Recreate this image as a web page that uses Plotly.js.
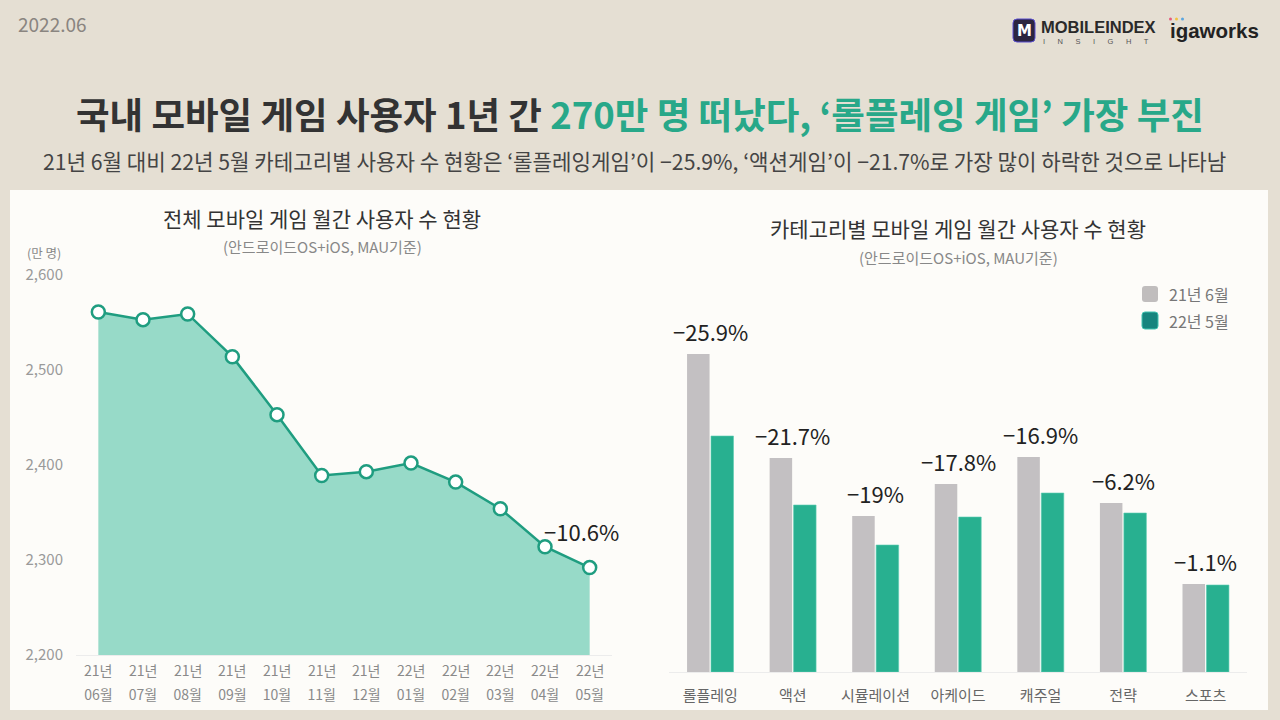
<!DOCTYPE html>
<html>
<head>
<meta charset="utf-8">
<script src="https://cdn.plot.ly/plotly-3.0.1.min.js"></script>
<style>
  html, body { margin: 0; padding: 0; background: #e5dfd3; }
  #chart { width: 1280px; height: 720px; }
</style>
</head>
<body>
<div id="chart"></div>
<script>
const FONT = "Noto Sans CJK KR, Noto Sans, sans-serif";

// monthly total users (만 명)
const monthYears = ["21년", "21년", "21년", "21년", "21년", "21년", "21년", "22년", "22년", "22년", "22년", "22년"];
const monthNames = ["06월", "07월", "08월", "09월", "10월", "11월", "12월", "01월", "02월", "03월", "04월", "05월"];
const totalUsers = [2561, 2553, 2559, 2514, 2453, 2389, 2393, 2402, 2382, 2354, 2314, 2292];
const totalChange = "−10.6%";

// users by category, Jun 21 vs May 22 (relative bar heights)
const categories = ["롤플레잉", "액션", "시뮬레이션", "아케이드", "캐주얼", "전략", "스포츠"];
const users2106 = [318, 214, 156, 188, 215, 169, 88];
const users2205 = [236, 167, 127, 155, 179, 159, 87];
const changeLabels = ["−25.9%", "−21.7%", "−19%", "−17.8%", "−16.9%", "−6.2%", "−1.1%"];
const seriesNames = ["21년 6월", "22년 5월"];

const TEAL_LINE = "#1f9d80";
const TEAL_BAR = "#28b090";
const GRAY_BAR = "#c3c0c2";

// pixel helpers for the fixed 1280x720 page
const px = (x) => x / 1280;
const py = (y) => 1 - y / 720;

function note(text, x, y, size, color, extra) {
  return Object.assign({
    text, x: px(x), y: py(y), xref: "paper", yref: "paper", showarrow: false,
    xanchor: "center", yanchor: "middle",
    font: { size, color, family: FONT },
  }, extra || {});
}

function roundRect(x0, y0, x1, y1, r) {
  const X0 = px(x0), X1 = px(x1), Y0 = py(y0), Y1 = py(y1);
  const rx = r / 1280, ry = r / 720;
  return `M${X0 + rx},${Y0} L${X1 - rx},${Y0} Q${X1},${Y0} ${X1},${Y0 - ry} L${X1},${Y1 + ry} Q${X1},${Y1} ${X1 - rx},${Y1} ` +
    `L${X0 + rx},${Y1} Q${X0},${Y1} ${X0},${Y1 + ry} L${X0},${Y0 - ry} Q${X0},${Y0} ${X0 + rx},${Y0} Z`;
}

const traces = [
  {
    x: monthNames,
    y: totalUsers,
    type: "scatter",
    mode: "lines+markers",
    fill: "tozeroy",
    fillcolor: "#97dac8",
    line: { color: TEAL_LINE, width: 2.5 },
    marker: { size: 13, color: "#ffffff", line: { color: TEAL_LINE, width: 2.5 } },
    xaxis: "x",
    yaxis: "y",
    hoverinfo: "skip",
  },
  {
    x: categories,
    y: users2106,
    type: "bar",
    name: seriesNames[0],
    marker: { color: GRAY_BAR },
    xaxis: "x2",
    yaxis: "y2",
    hoverinfo: "skip",
  },
  {
    x: categories,
    y: users2205,
    type: "bar",
    name: seriesNames[1],
    marker: { color: TEAL_BAR, line: { color: "#5ccdb2", width: 0.6 } },
    xaxis: "x2",
    yaxis: "y2",
    hoverinfo: "skip",
  },
];

const annotations = [
  // header
  note("2022.06", 16, 24, 19, "#8a8580", { xanchor: "left" }),
  note("<b>M</b>", 1024, 31, 15, "#ffffff", { font: { size: 15, color: "#ffffff", family: "DejaVu Sans" } }),
  note("<b>MOBILEINDEX</b>", 1039, 27, 16.5, "#2a2a2a", { xanchor: "left", font: { size: 16.5, color: "#2a2a2a", family: "Liberation Sans" } }),
  note("I      N      S      I      G      H      T", 1041, 41, 7.5, "#555",
    { xanchor: "left", font: { size: 7.5, color: "#555", family: "Liberation Sans" } }),
  note("<b>igaworks</b>", 1168, 31, 20.5, "#222", { xanchor: "left", font: { size: 20.5, color: "#222", family: "Liberation Sans" } }),

  // main title
  note("<b>국내 모바일 게임 사용자 1년 간 <span style='color:#28a889'>270만 명 떠났다, ‘롤플레잉 게임’ 가장 부진</span></b>",
    640, 113, 36.5, "#333"),
  note("21년 6월 대비 22년 5월 카테고리별 사용자 수 현황은 ‘롤플레잉게임’이 −25.9%, ‘액션게임’이 −21.7%로 가장 많이 하락한 것으로 나타남",
    634, 160, 21.2, "#444"),

  // left chart titles
  note("전체 모바일 게임 월간 사용자 수 현황", 322, 218, 21, "#333"),
  note("(안드로이드OS+iOS, MAU기준)", 322, 246, 15, "#888"),
  note("(만 명)", 44, 253, 12.5, "#888"),
  { text: totalChange, x: monthNames[monthNames.length - 1], y: totalUsers[totalUsers.length - 1],
    xref: "x", yref: "y", showarrow: false, xshift: -8, yshift: 37,
    font: { size: 22, color: "#222", family: FONT } },

  // right chart titles
  note("카테고리별 모바일 게임 월간 사용자 수 현황", 958, 228, 21, "#333"),
  note("(안드로이드OS+iOS, MAU기준)", 958, 257, 15, "#888"),

  // legend texts
  note(seriesNames[0], 1167, 294, 16, "#777", { xanchor: "left" }),
  note(seriesNames[1], 1167, 321, 16, "#777", { xanchor: "left" }),
];

// year line of the month tick labels
monthYears.forEach((yr, i) => {
  annotations.push({
    text: yr, x: monthNames[i], xref: "x", y: py(670), yref: "paper",
    showarrow: false, yanchor: "middle",
    font: { size: 14, color: "#8a8a8a", family: FONT },
  });
});

categories.forEach((cat, i) => {
  annotations.push({
    text: changeLabels[i], x: cat, y: Math.max(users2106[i], users2205[i]),
    xref: "x2", yref: "y2", showarrow: false, yshift: 23,
    font: { size: 22, color: "#222", family: FONT },
  });
});

const layout = {
  width: 1280,
  height: 720,
  margin: { l: 0, r: 0, t: 0, b: 0 },
  paper_bgcolor: "#e5dfd3",
  plot_bgcolor: "rgba(0,0,0,0)",
  font: { family: FONT },
  showlegend: false,
  barmode: "group",
  bargap: 0.42,
  bargroupgap: 0.06,
  xaxis: {
    domain: [px(76), px(612)],
    range: [-0.5, 11.5],
    showgrid: false,
    zeroline: false,
    showline: true,
    linecolor: "#ececec",
    ticks: "",
    tickfont: { size: 14, color: "#8a8a8a", family: FONT },
    ticklabelstandoff: 27,
    fixedrange: true,
  },
  yaxis: {
    domain: [py(655), py(275)],
    range: [2200, 2600],
    dtick: 100,
    tickformat: ",",
    showgrid: false,
    zeroline: false,
    showline: false,
    ticks: "",
    tickfont: { size: 15, color: "#9a9a9a", family: FONT },
    ticklabelstandoff: 12,
    fixedrange: true,
  },
  xaxis2: {
    domain: [px(669), px(1247)],
    range: [-0.5, 6.5],
    anchor: "y2",
    showgrid: false,
    zeroline: false,
    showline: true,
    linecolor: "#ececec",
    ticks: "",
    tickfont: { size: 15, color: "#666", family: FONT },
    ticklabelstandoff: 10,
    fixedrange: true,
  },
  yaxis2: {
    domain: [py(672), py(272)],
    range: [0, 400],
    anchor: "x2",
    visible: false,
    fixedrange: true,
  },
  shapes: [
    { type: "rect", xref: "paper", yref: "paper", layer: "below",
      x0: px(10), x1: px(1268), y0: py(710), y1: py(190),
      fillcolor: "#fdfcf9", line: { width: 0 } },
    { type: "path", xref: "paper", yref: "paper", layer: "below",
      path: roundRect(1013, 19, 1035, 42, 4),
      fillcolor: "#2b2540", line: { color: "#5a4fd0", width: 1 } },
    { type: "circle", xref: "paper", yref: "paper",
      x0: px(1169), x1: px(1172), y0: py(20.5), y1: py(17.5), fillcolor: "#e85b7b", line: { width: 0 } },
    { type: "circle", xref: "paper", yref: "paper",
      x0: px(1175), x1: px(1178), y0: py(20.5), y1: py(17.5), fillcolor: "#f2c240", line: { width: 0 } },
    { type: "circle", xref: "paper", yref: "paper",
      x0: px(1181), x1: px(1184), y0: py(20.5), y1: py(17.5), fillcolor: "#5aa6e0", line: { width: 0 } },
    // legend swatches
    { type: "path", xref: "paper", yref: "paper",
      path: roundRect(1142, 286, 1158, 302, 3), fillcolor: "#c0bdbd", line: { width: 0 } },
    { type: "path", xref: "paper", yref: "paper",
      path: roundRect(1142, 312, 1158, 329, 3), fillcolor: "#16857e", line: { color: "#3fc3b0", width: 1 } },
  ],
  annotations,
};

Plotly.newPlot("chart", traces, layout, { staticPlot: true, displayModeBar: false });
</script>
</body>
</html>
